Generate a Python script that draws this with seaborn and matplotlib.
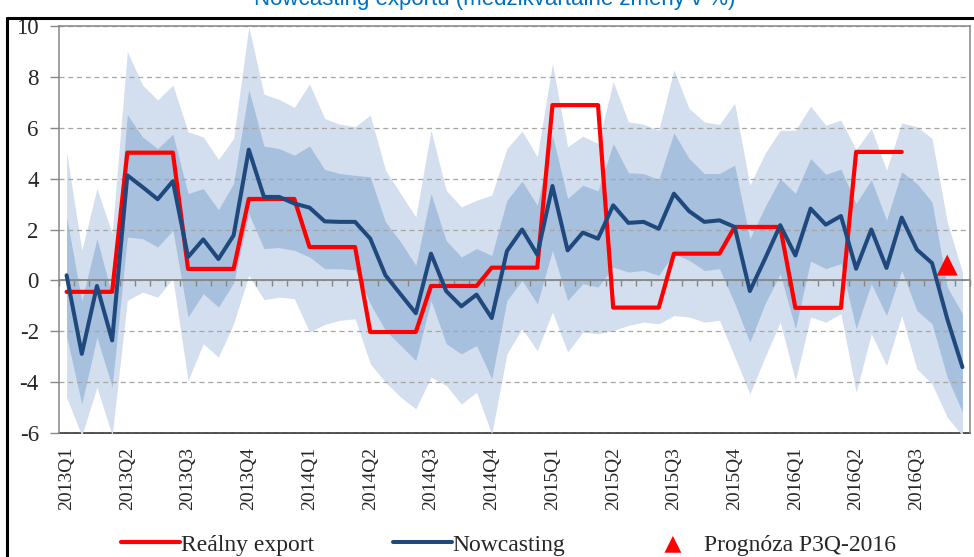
import numpy as np
import pandas as pd
import matplotlib
matplotlib.use("Agg")
import matplotlib.pyplot as plt
import seaborn as sns
from matplotlib.lines import Line2D

# --- data (4 nowcast updates per quarter, 2013Q1 .. 2016Q3) ---
quarter_labels = ["2013Q1", "2013Q2", "2013Q3", "2013Q4",
                  "2014Q1", "2014Q2", "2014Q3", "2014Q4",
                  "2015Q1", "2015Q2", "2015Q3", "2015Q4",
                  "2016Q1", "2016Q2", "2016Q3"]

nowcast = [0.2, -2.89, -0.22, -2.36, 4.13, 3.67, 3.19, 3.9, 0.92, 1.61, 0.84, 1.77,
           5.14, 3.28, 3.28, 3.02, 2.86, 2.32, 2.30, 2.30, 1.64, 0.2, -0.55, -1.29,
           1.05, -0.42, -1.02, -0.56, -1.48, 1.15, 2.0, 1.01, 3.71, 1.18, 1.88, 1.64,
           2.95, 2.26, 2.30, 2.03, 3.41, 2.72, 2.30, 2.36, 2.10, -0.42, 0.85, 2.17,
           0.98, 2.82, 2.19, 2.53, 0.46, 2.0, 0.49, 2.47, 1.21, 0.68, -1.51, -3.41]

real_export = [-0.45, -0.45, -0.45, -0.45, 5.02, 5.02, 5.02, 5.02, 0.45, 0.45, 0.45, 0.45,
               3.2, 3.2, 3.2, 3.2, 1.31, 1.31, 1.31, 1.31, -2.03, -2.03, -2.03, -2.03,
               -0.22, -0.22, -0.22, -0.22, 0.5, 0.5, 0.5, 0.5, 6.89, 6.89, 6.89, 6.89,
               -1.07, -1.07, -1.07, -1.07, 1.05, 1.05, 1.05, 1.05, 2.1, 2.1, 2.1, 2.1,
               -1.08, -1.08, -1.08, -1.08, 5.05, 5.05, 5.05, 5.05, None, None, None, None]

outer_high = [5.05, 1.18, 3.61, 1.84, 8.99, 7.68, 7.09, 7.68, 5.84, 5.64, 4.75, 5.58,
              9.97, 7.32, 7.11, 6.8, 7.72, 6.36, 6.14, 6.04, 6.5, 4.33, 3.41, 2.49,
              5.9, 3.54, 2.89, 3.15, 3.35, 5.18, 5.87, 4.86, 8.53, 5.25, 5.67, 5.38,
              7.81, 6.23, 6.14, 5.9, 8.27, 6.76, 6.23, 6.13, 6.96, 3.74, 4.99, 5.9,
              5.9, 6.85, 6.1, 6.3, 5.14, 5.97, 4.33, 6.19, 6.04, 5.58, 2.3, 0.33]

inner_high = [2.49, -0.8, 1.64, -0.6, 6.52, 5.64, 5.18, 5.75, 3.41, 3.61, 2.78, 3.81,
              7.5, 5.28, 5.18, 4.92, 5.28, 4.36, 4.2, 4.13, 4.07, 2.3, 1.51, 0.59,
              3.41, 1.57, 0.92, 1.25, 0.98, 3.15, 3.9, 2.95, 5.71, 3.22, 3.74, 3.52,
              5.38, 4.23, 4.2, 3.96, 5.8, 4.79, 4.2, 4.2, 4.53, 1.64, 2.89, 4.0,
              3.42, 4.79, 4.17, 4.37, 3.02, 3.96, 2.36, 4.27, 3.81, 3.08, -0.26, -1.31]

inner_low = [-2.2, -4.86, -2.23, -4.2, 1.7, 1.64, 1.31, 1.97, -1.44, -0.52, -1.05, -0.1,
             2.62, 1.25, 1.29, 1.18, 0.92, 0.46, 0.46, 0.42, -0.92, -1.97, -2.56, -3.15,
             -0.79, -2.49, -2.89, -2.56, -3.87, -0.79, 0.0, -0.92, 1.18, -0.79, -0.13, -0.26,
             0.52, 0.33, 0.39, 0.2, 1.05, 0.79, 0.39, 0.46, -0.9, -2.43, -0.92, 0.26,
             -1.9, 0.76, 0.46, 0.66, -1.9, -0.13, -1.38, 0.39, -1.18, -1.71, -3.81, -5.18]

outer_low = [-4.6, -6.1, -4.2, -6.1, -0.79, -0.46, -0.66, 0.07, -3.94, -2.49, -3.02, -1.7,
             0.2, -0.76, -0.66, -0.72, -2.03, -1.73, -1.57, -1.51, -3.28, -4.0, -4.59, -5.05,
             -3.8, -4.13, -4.86, -4.4, -6.04, -2.89, -1.9, -2.76, -1.25, -2.82, -2.03, -2.1,
             -1.97, -1.77, -1.64, -1.71, -1.38, -1.44, -1.64, -1.57, -3.0, -4.46, -3.02, -1.64,
             -3.94, -1.44, -1.64, -1.31, -4.4, -2.1, -3.35, -1.38, -3.48, -4.07, -5.38, -6.1]

forecast_pos = [58]
forecast_val = [0.6]

# colours
RED = "#FF0000"
NAVY = "#1F497D"
BAND_LIGHT = "#D3DFEE"
BAND_MID = "#A7C0DD"
AXIS_GREY = "#868686"

df = pd.DataFrame({
    "t": np.arange(len(nowcast)),
    "nowcast": nowcast,
    "real": pd.to_numeric(pd.Series(real_export), errors="coerce"),
    "outer_high": outer_high,
    "outer_low": outer_low,
    "inner_high": inner_high,
    "inner_low": inner_low,
})
fc = pd.DataFrame({"t": forecast_pos, "val": forecast_val})

sns.set_style("white")
plt.rcParams["font.family"] = ["Liberation Serif", "DejaVu Serif"]
plt.rcParams["axes.unicode_minus"] = False

W, H = 974, 557
fig = plt.figure(figsize=(W / 100, H / 100), dpi=100)
ax = fig.add_axes([59 / W, 1 - 433 / H, (970 - 59) / W, (433 - 26) / H])

# fan bands
ax.fill_between(df["t"], df["outer_low"], df["outer_high"], color=BAND_LIGHT, lw=0, zorder=1)
ax.fill_between(df["t"], df["inner_low"], df["inner_high"], color=BAND_MID, lw=0, zorder=1)

sns.lineplot(data=df, x="t", y="real", color=RED, lw=3.0, ax=ax,
             label="Reálny export", zorder=3)
sns.lineplot(data=df, x="t", y="nowcast", color=NAVY, lw=2.9, ax=ax,
             label="Nowcasting", zorder=4)
sns.scatterplot(data=fc, x="t", y="val", marker="^", s=230, color=RED,
                edgecolor="none", ax=ax, label="Prognóza P3Q-2016", zorder=5)

n = len(nowcast)
ax.set_xlim(-0.5, n - 0.5)
ax.set_ylim(-6, 10)
ax.set_xlabel("")
ax.set_ylabel("")

# y axis
ax.set_yticks(np.arange(-6, 11, 2))
ax.tick_params(axis="y", direction="out", length=6.5, width=1, color=AXIS_GREY,
               pad=8, labelsize=16.5, left=True)
ax.set_axisbelow("line")
ax.yaxis.grid(True, color="#A6A6A6", lw=0.9, ls=(0, (4, 3)))
ax.xaxis.grid(False)

# category axis crossing at zero, with a tick between every update
ax.spines["bottom"].set_position(("data", 0))
ax.spines["bottom"].set_color(AXIS_GREY)
ax.spines["bottom"].set_linewidth(1.3)
ax.set_xticks(np.arange(-0.5, n, 1.0))
ax.tick_params(axis="x", direction="out", length=4, width=1, color=AXIS_GREY,
               labelbottom=False, bottom=True)
for side in ["left", "top", "right"]:
    ax.spines[side].set_color(AXIS_GREY)
    ax.spines[side].set_linewidth(1.1)

# quarter labels along the bottom of the plot area
sec = ax.secondary_xaxis("bottom")
sec.set_xticks(np.arange(0, n, 4))
sec.set_xticklabels(quarter_labels, rotation=90, fontsize=14)
sec.tick_params(length=0, pad=10)
sec.spines["bottom"].set_color("#404040")
sec.spines["bottom"].set_linewidth(1.3)

# legend
handles, labels = ax.get_legend_handles_labels()
ax.legend(handles, labels, loc="center", bbox_to_anchor=(0.522, 0.022),
          bbox_transform=fig.transFigure, ncol=3, frameon=False,
          prop={"family": ["Liberation Serif"], "size": 17},
          handlelength=2.5, handletextpad=0.05, columnspacing=3.3, borderaxespad=0,
          markerscale=0.8)

# title, cut off at the top of the image
fig.text(0.508, 1 - 5 / H, "Nowcasting exportu (medzikvartálne zmeny v %)",
         ha="center", va="baseline", color="#0070C0", fontsize=16,
         family=["Liberation Sans", "DejaVu Sans"])

# outer frame of the original graphic
fig.add_artist(Line2D([7 / W, 7 / W], [0, 1 - 18 / H], transform=fig.transFigure,
                      color="black", lw=2.2))
fig.add_artist(Line2D([7 / W, 1], [1 - 18 / H, 1 - 18 / H], transform=fig.transFigure,
                      color="black", lw=2.2))

fig.savefig("out.png", dpi=100)
